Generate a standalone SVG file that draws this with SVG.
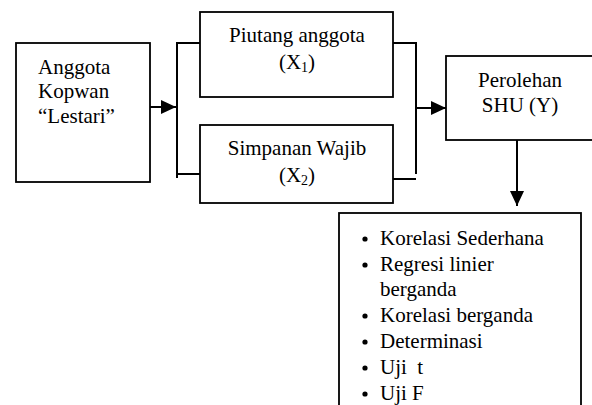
<svg xmlns="http://www.w3.org/2000/svg" width="592" height="405" viewBox="0 0 592 405">
<defs>
<style>
.box{fill:#fff;stroke:#000;stroke-width:1.8}
.ln{fill:none;stroke:#000;stroke-width:2}
.t{font-family:"Liberation Serif","Times New Roman",serif;font-size:21px;fill:#000}
.c{text-anchor:middle}
.sub{font-size:14px}
.pre{white-space:pre}
</style>
<marker id="ah" viewBox="0 0 15 14" refX="15" refY="7" markerWidth="15" markerHeight="14" markerUnits="userSpaceOnUse" orient="auto">
<path d="M0,0 L15,7 L0,14 Z" fill="#000"/>
</marker>
</defs>
<rect width="592" height="405" fill="#fff"/>
<g id="anggota">
<rect class="box" x="16" y="43" width="134" height="139"/>
<text class="t" x="38" y="74">Anggota</text>
<text class="t" x="38" y="98">Kopwan</text>
<text class="t" x="38" y="123">“Lestari”</text>
</g>
<g id="piutang">
<rect class="box" x="200" y="12" width="193" height="85"/>
<text class="t c" x="297" y="42">Piutang anggota</text>
<text class="t c" x="297" y="69">(X<tspan class="sub" dy="3">1</tspan><tspan dy="-3">)</tspan></text>
</g>
<g id="simpanan">
<rect class="box" x="200" y="125" width="193" height="78"/>
<text class="t c" x="297" y="155">Simpanan Wajib</text>
<text class="t c" x="297" y="182">(X<tspan class="sub" dy="3">2</tspan><tspan dy="-3">)</tspan></text>
</g>
<g id="perolehan">
<rect class="box" x="446" y="56" width="160" height="84"/>
<text class="t c" x="520" y="87">Perolehan</text>
<text class="t c" x="520" y="112">SHU (Y)</text>
</g>
<g id="analisis">
<rect class="box" x="339" y="213" width="242" height="210"/>
<g fill="#000">
<circle cx="365" cy="239" r="2.6"/>
<circle cx="365" cy="265" r="2.6"/>
<circle cx="365" cy="316" r="2.6"/>
<circle cx="365" cy="342" r="2.6"/>
<circle cx="365" cy="368" r="2.6"/>
<circle cx="365" cy="394" r="2.6"/>
</g>
<text class="t" x="380" y="245">Korelasi Sederhana</text>
<text class="t" x="380" y="271">Regresi linier</text>
<text class="t" x="380" y="296">berganda</text>
<text class="t" x="380" y="322">Korelasi berganda</text>
<text class="t" x="380" y="348">Determinasi</text>
<text class="t pre" x="380" y="374">Uji  t</text>
<text class="t" x="380" y="400">Uji F</text>
</g>
<g id="connectors">
<line class="ln" x1="150" y1="107" x2="176" y2="107" marker-end="url(#ah)"/>
<polyline class="ln" points="200,43 177,43 177,178"/>
<line class="ln" x1="177" y1="174" x2="200" y2="174"/>
<polyline class="ln" points="393,43 416,43 416,174"/>
<line class="ln" x1="393" y1="179" x2="416" y2="179"/>
<line class="ln" x1="416" y1="108" x2="446" y2="108" marker-end="url(#ah)"/>
<line class="ln" x1="517" y1="140" x2="517" y2="206" marker-end="url(#ah)"/>
</g>
</svg>
